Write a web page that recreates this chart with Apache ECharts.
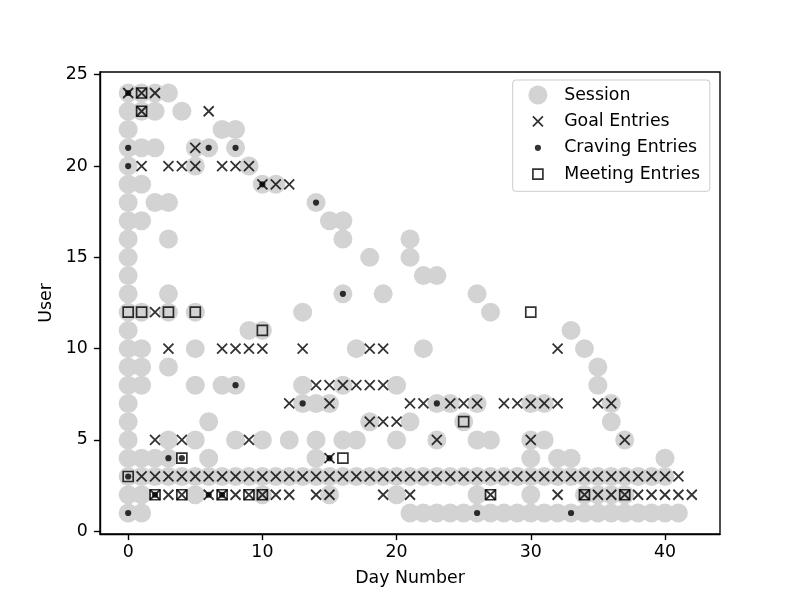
<!DOCTYPE html>
<html>
<head>
<meta charset="utf-8">
<script src="https://cdn.jsdelivr.net/npm/echarts@6/dist/echarts.min.js"></script>
<style>
  html, body { margin: 0; padding: 0; background: #fff; }
  #chart { width: 800px; height: 600px; }
</style>
</head>
<body>
<div id="chart"></div>
<script>
// one row per user (index 0 -> user 1), values are day numbers
const users = [1, 2, 3, 4, 5, 6, 7, 8, 9, 10, 11, 12, 13, 14, 15, 16, 17, 18, 19, 20, 21, 22, 23, 24];

const sessionDays = [
    [0, 1, 21, 22, 23, 24, 25, 26, 27, 28, 29, 30, 31, 32, 33, 34, 35, 36, 37, 38, 39, 40, 41],
    [0, 1, 5, 10, 15, 20, 26, 30, 34, 35, 36, 37],
    [0, 1, 2, 3, 4, 5, 6, 7, 8, 9, 10, 11, 12, 13, 14, 15, 16, 17, 18, 19, 20, 21, 22, 23, 24, 25, 26, 27, 28, 29, 30, 31, 32, 33, 34, 35, 36, 37, 38, 39, 40],
    [0, 1, 2, 3, 6, 14, 30, 32, 33, 40],
    [0, 3, 5, 8, 10, 12, 14, 16, 17, 20, 23, 26, 27, 30, 31, 37],
    [0, 6, 18, 21, 25, 36],
    [0, 13, 14, 15, 23, 24, 26, 30, 31, 36],
    [0, 1, 5, 7, 8, 13, 16, 20, 35],
    [0, 1, 3, 35],
    [0, 1, 5, 17, 22, 34],
    [0, 9, 10, 33],
    [0, 1, 3, 5, 13, 27],
    [0, 3, 16, 19, 26],
    [0, 22, 23],
    [0, 18, 21],
    [0, 3, 16, 21],
    [0, 1, 15, 16],
    [0, 2, 3, 14],
    [0, 1, 10, 11],
    [0, 5, 9],
    [0, 1, 2, 5, 6, 8],
    [0, 7, 8],
    [0, 1, 2, 4],
    [0, 1, 2, 3]
];

const goalDays = [
    [],
    [2, 3, 4, 6, 7, 8, 9, 10, 11, 12, 14, 15, 19, 21, 27, 32, 34, 35, 36, 37, 38, 39, 40, 41, 42],
    [1, 2, 3, 4, 5, 6, 7, 8, 9, 10, 11, 12, 13, 14, 15, 16, 17, 18, 19, 20, 21, 22, 23, 24, 25, 26, 27, 28, 29, 30, 31, 32, 33, 34, 35, 36, 37, 38, 39, 40, 41],
    [15],
    [2, 4, 9, 23, 30, 37],
    [18, 19, 20],
    [12, 15, 21, 22, 24, 25, 26, 28, 29, 30, 31, 32, 35, 36],
    [14, 15, 16, 17, 18, 19],
    [],
    [3, 7, 8, 9, 10, 13, 18, 19, 32],
    [],
    [2],
    [], [], [], [], [], [],
    [10, 11, 12],
    [1, 3, 4, 5, 7, 8, 9],
    [5],
    [],
    [1, 6],
    [0, 1, 2]
];

const cravingDays = [
    [0, 26, 33],
    [2, 6, 7],
    [0],
    [3, 4, 15],
    [], [],
    [13, 23],
    [8],
    [], [], [], [],
    [16],
    [], [], [], [],
    [14],
    [10],
    [0],
    [0, 6, 8],
    [], [],
    [0]
];

const meetingDays = [
    [],
    [2, 4, 7, 9, 10, 27, 34, 37],
    [0],
    [4, 16],
    [],
    [25],
    [], [], [], [],
    [10],
    [0, 1, 3, 5, 30],
    [], [], [], [], [], [], [], [], [], [],
    [1],
    [1]
];

const xTicks = [0, 10, 20, 30, 40];
const yTicks = [0, 5, 10, 15, 20, 25];

function toPoints(daysByUser) {
    const pts = [];
    daysByUser.forEach((days, i) => {
        days.forEach(d => pts.push([d, users[i]]));
    });
    return pts;
}

const FONT = 'DejaVu Sans';
const FS = 17.36;

const chart = echarts.init(document.getElementById('chart'), null, {renderer: 'canvas'});

const option = {
    animation: false,
    backgroundColor: '#fff',
    textStyle: {fontFamily: FONT},
    grid: {
        left: 100, right: 80, top: 72, bottom: 66,
        show: true, borderColor: '#000', borderWidth: 1.39,
        containLabel: false, outerBoundsMode: 'none'
    },
    xAxis: {
        type: 'value',
        min: -2.1, max: 44.1,
        name: 'Day Number',
        nameLocation: 'middle',
        nameGap: 36,
        nameTextStyle: {fontSize: FS, color: '#000', fontFamily: FONT},
        axisLine: {show: true, onZero: false, lineStyle: {color: '#000', width: 1.39}},
        axisTick: {show: true, customValues: xTicks, length: 6.08, lineStyle: {color: '#000', width: 1.39}},
        axisLabel: {customValues: xTicks, margin: 10, fontSize: FS, color: '#000', fontFamily: FONT},
        splitLine: {show: false}
    },
    yAxis: {
        type: 'value',
        min: -0.15, max: 25.15,
        name: 'User',
        nameLocation: 'middle',
        nameRotate: 90,
        nameGap: 36,
        nameTextStyle: {fontSize: FS, color: '#000', fontFamily: FONT},
        axisLine: {show: true, onZero: false, lineStyle: {color: '#000', width: 1.39}},
        axisTick: {show: true, customValues: yTicks, length: 6.08, lineStyle: {color: '#000', width: 1.39}},
        axisLabel: {customValues: yTicks, margin: 12.2, fontSize: FS, color: '#000', fontFamily: FONT},
        splitLine: {show: false}
    },
    legend: {
        orient: 'vertical',
        left: 512.7,
        top: 80,
        padding: [5.5, 9.7, 6.8, 14.8],
        itemWidth: 42.5,
        itemHeight: 19,
        itemGap: 6.5,
        selectedMode: false,
        symbolKeepAspect: true,
        backgroundColor: 'rgba(255,255,255,0.8)',
        borderColor: '#cccccc',
        borderWidth: 1,
        borderRadius: 3,
        textStyle: {fontSize: FS, color: '#000', fontFamily: FONT},
        data: [
            {name: 'Session', icon: 'circle', itemStyle: {color: '#d3d3d3', borderWidth: 0}},
            {name: 'Goal Entries', icon: 'path://M0,0M19,19M4.5,4.5L14.5,14.5M14.5,4.5L4.5,14.5',
                itemStyle: {color: 'transparent', borderColor: '#000', borderWidth: 1.8}},
            {name: 'Craving Entries', icon: 'path://M0,0M19,19M6.4,9.5A3.1,3.1,0,1,1,12.6,9.5A3.1,3.1,0,1,1,6.4,9.5Z',
                itemStyle: {color: '#000', borderWidth: 0}},
            {name: 'Meeting Entries', icon: 'path://M0,0M19,19M4.5,4.5H14.5V14.5H4.5Z',
                itemStyle: {color: 'transparent', borderColor: '#000', borderWidth: 1.7}}
        ]
    },
    series: [
        {
            name: 'Session',
            type: 'scatter',
            symbol: 'circle',
            symbolSize: 19,
            itemStyle: {color: '#d3d3d3', opacity: 1},
            emphasis: {disabled: true},
            data: toPoints(sessionDays)
        },
        {
            name: 'Goal Entries',
            type: 'scatter',
            symbol: 'path://M0,0L10,10M10,0L0,10',
            symbolSize: 10,
            itemStyle: {color: 'transparent', borderColor: '#000', borderWidth: 1.8},
            emphasis: {disabled: true},
            data: toPoints(goalDays)
        },
        {
            name: 'Craving Entries',
            type: 'scatter',
            symbol: 'circle',
            symbolSize: 6.2,
            itemStyle: {color: '#000'},
            emphasis: {disabled: true},
            data: toPoints(cravingDays)
        },
        {
            name: 'Meeting Entries',
            type: 'scatter',
            symbol: 'rect',
            symbolSize: 10,
            itemStyle: {color: 'transparent', borderColor: '#000', borderWidth: 1.7},
            emphasis: {disabled: true},
            data: toPoints(meetingDays)
        }
    ]
};

chart.setOption(option);
</script>
</body>
</html>
